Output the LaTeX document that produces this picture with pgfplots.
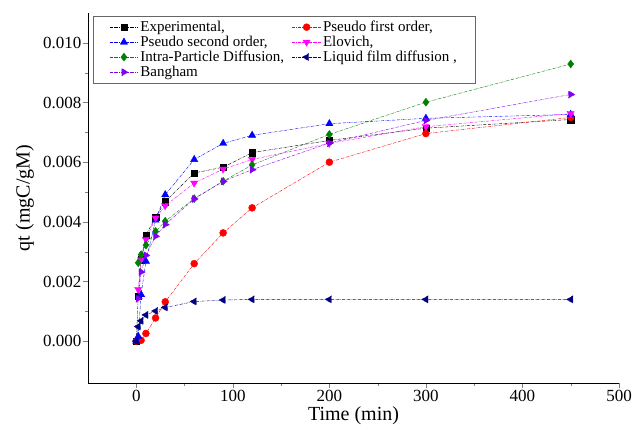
\documentclass[border=0pt]{standalone}
\usepackage{fontspec}
\setmainfont{Liberation Serif}
\usepackage{pgfplots}
\pgfplotsset{compat=1.18}
\definecolor{cexp}{RGB}{0,0,0}
\definecolor{cpfo}{RGB}{255,0,0}
\definecolor{cpso}{RGB}{0,0,255}
\definecolor{celo}{RGB}{255,0,255}
\definecolor{cipd}{RGB}{0,128,0}
\definecolor{clfd}{RGB}{0,0,128}
\definecolor{cban}{RGB}{128,0,240}
\begin{document}
\begin{tikzpicture}
\begin{axis}[
  scale only axis,
  width=531pt, height=370pt,
  xmin=-50, xmax=500,
  ymin=-0.0014, ymax=0.011,
  axis x line*=bottom, axis y line*=left,
  xtick={0,100,200,300,400,500},
  minor x tick num=1,
  ytick={0,0.002,0.004,0.006,0.008,0.010},
  minor y tick num=1,
  scaled y ticks=false,
  tick align=outside,
  major tick length=5pt, minor tick length=3pt,
  yticklabel style={/pgf/number format/.cd, fixed, fixed zerofill, precision=3},
  /pgf/number format/assume math mode=true,
  tick label style={font=\fontsize{17}{20}\selectfont, inner sep=1.5pt},
  xlabel={Time (min)}, ylabel={qt (mgC/gM)},
  label style={font=\fontsize{20}{24}\selectfont},
  xlabel style={inner sep=0pt, yshift=-4pt},
  ylabel style={yshift=4pt},
  every axis plot/.append style={densely dashdotted, line width=0.4pt, mark options={solid}},
  legend columns=2,
  legend cell align=left,
  legend style={at={(0.01,0.992)}, anchor=north west, draw=black!60, font=\fontsize{15}{16}\selectfont,
    /tikz/every even column/.append style={column sep=6pt}, row sep=-1pt, inner xsep=16pt, inner ysep=3pt},
  legend image code/.code={\draw[mark repeat=2,mark phase=2] plot coordinates {(0cm,0cm) (0.5cm,0cm) (1cm,0cm)};},
]
\addplot[color=cexp, mark=square*, mark size=3.2pt] coordinates {
(0,0) (2,0.0015) (5,0.00273) (10,0.00355) (20,0.00416) (30,0.00468) (60,0.00564) (90,0.00583) (120,0.00632) (200,0.00673) (300,0.00714) (450,0.00743)};
\addlegendentry{Experimental,}
\addplot[color=cpfo, mark=*, mark size=3.5pt] coordinates {
(0,0) (5,0.00003) (10,0.00026) (20,0.00078) (30,0.00132) (60,0.0026) (90,0.00363) (120,0.00447) (200,0.006) (300,0.00696) (450,0.0075)};
\addlegendentry{Pseudo first order,}
\addplot[color=cpso, mark=triangle*, mark size=4.2pt] coordinates {
(0,0) (2,0.000165) (5,0.00156) (10,0.00268) (20,0.00406) (30,0.00491) (60,0.00609) (90,0.00663) (120,0.0069) (200,0.00729) (300,0.00747) (450,0.0076)};
\addlegendentry{Pseudo second order,}
\addplot[color=celo, mark=triangle*, mark size=4.2pt, mark options={rotate=180}] coordinates {
(2,0.00173) (5,0.00273) (10,0.00341) (20,0.00413) (30,0.00454) (60,0.0053) (90,0.00577) (120,0.00609) (200,0.00663) (300,0.00719) (450,0.00763)};
\addlegendentry{Elovich,}
\addplot[color=cipd, mark=diamond*, mark size=4pt] coordinates {
(2,0.00263) (5,0.0029) (10,0.00322) (20,0.00368) (30,0.00402) (60,0.00478) (90,0.00536) (120,0.00591) (200,0.00693) (300,0.00801) (450,0.00929)};
\addlegendentry{Intra-Particle Diffusion,}
\addplot[color=clfd, mark=triangle*, mark size=4.2pt, mark options={rotate=90}] coordinates {
(0,0) (2,0.00049) (5,0.00068) (10,0.00088) (20,0.00101) (30,0.00113) (60,0.00133) (90,0.00138) (120,0.0014) (200,0.0014) (300,0.0014) (450,0.0014)};
\addlegendentry{Liquid film diffusion ,}
\addplot[color=cban, mark=triangle*, mark size=4.2pt, mark options={rotate=-90}] coordinates {
(2,0.00143) (5,0.00232) (10,0.00288) (20,0.00352) (30,0.00391) (60,0.00477) (90,0.00536) (120,0.00575) (200,0.00664) (300,0.0074) (450,0.00827)};
\addlegendentry{Bangham}
\end{axis}
\pgfresetboundingbox
\path ([shift={(-88pt,-47pt)}]current axis.south west) rectangle ++(632pt,430pt);
\end{tikzpicture}
\end{document}
